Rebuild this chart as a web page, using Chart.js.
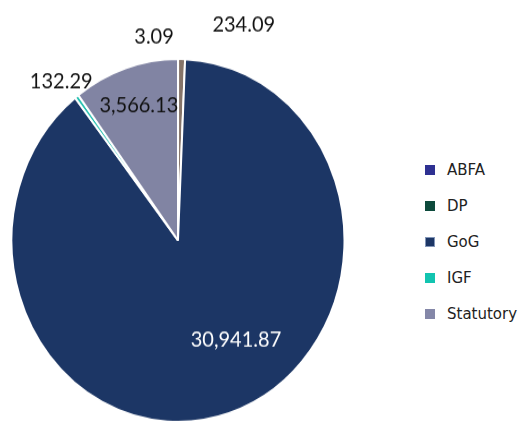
<!DOCTYPE html>
<html>
<head>
<meta charset="utf-8">
<script src="https://cdn.jsdelivr.net/npm/chart.js@4/dist/chart.umd.min.js"></script>
<style>
  body { margin: 0; background: #fff; }
  #wrap { position: relative; width: 522px; height: 423px; overflow: hidden; }
  /* pie is drawn slightly taller than wide */
  #pie-box { position: absolute; left: 0; top: 0; width: 356px; height: 388px; transform: scaleY(1.0902); transform-origin: 0 0; }
  #legend { position: absolute; left: 425px; top: 160px; margin: 0; padding: 0; list-style: none; font-family: 'DejaVu Sans', sans-serif; font-size: 15px; color: #222; }
  #legend li { display: flex; align-items: center; height: 20px; margin-bottom: 16px; }
  #legend .box { width: 10px; height: 10px; margin-right: 12px; box-sizing: border-box; }
</style>
</head>
<body>
<div id="wrap">
  <div id="pie-box"><canvas id="pie-chart"></canvas></div>
  <ul id="legend"></ul>
</div>
<script>
const sources = ['ABFA', 'DP', 'GoG', 'IGF', 'Statutory'];
const amounts = [3.09, 234.09, 30941.87, 132.29, 3566.13];

const sliceColors = ['#2e3192', '#857469', '#1c3665', '#1dbfae', '#8184a3'];
const legendColors = ['#2e3192', '#0d4a3c', '#1c3665', '#12c4b0', '#8487a8'];
const legendBorders = ['#2e3192', '#0d4a3c', '#8396b8', '#12c4b0', '#8487a8'];

// value labels: angle shift from the slice middle (deg), distance as share of radius
const labelShift = [-7.3, 17.1, -14.6, -1.2, 0.9];
const labelDistance = [1.134, 1.255, 0.649, 1.122, 0.782];
const labelColors = ['#111111', '#111111', '#ffffff', '#111111', '#111111'];

const fmt = v => v.toLocaleString('en-US', { minimumFractionDigits: 2, maximumFractionDigits: 2 });

const sliceLabels = {
  id: 'sliceLabels',
  afterDatasetsDraw(chart) {
    const ctx = chart.ctx;
    const meta = chart.getDatasetMeta(0);
    ctx.save();
    ctx.font = '20px Lato';
    ctx.textAlign = 'center';
    ctx.textBaseline = 'middle';
    meta.data.forEach((arc, i) => {
      const { x, y, startAngle, endAngle, outerRadius } =
        arc.getProps(['x', 'y', 'startAngle', 'endAngle', 'outerRadius'], true);
      const a = (startAngle + endAngle) / 2 + labelShift[i] * Math.PI / 180;
      const r = outerRadius * labelDistance[i];
      ctx.fillStyle = labelColors[i];
      ctx.fillText(fmt(amounts[i]), x + Math.cos(a) * r, y + Math.sin(a) * r);
    });
    ctx.restore();
  }
};

const chart = new Chart(document.querySelector('#pie-chart'), {
  type: 'pie',
  data: {
    labels: sources,
    datasets: [{
      data: amounts,
      backgroundColor: sliceColors,
      borderColor: '#ffffff',
      borderWidth: 2
    }]
  },
  options: {
    responsive: true,
    maintainAspectRatio: false,
    animation: false,
    layout: { padding: { left: 10, right: 10, top: 53, bottom: 0 } },
    plugins: {
      legend: { display: false },
      tooltip: { enabled: false }
    }
  },
  plugins: [sliceLabels]
});

const legend = document.querySelector('#legend');
chart.data.labels.forEach((name, i) => {
  const li = document.createElement('li');
  const box = document.createElement('span');
  box.className = 'box';
  box.style.background = legendColors[i];
  box.style.border = '1px solid ' + legendBorders[i];
  li.appendChild(box);
  li.appendChild(document.createTextNode(name));
  legend.appendChild(li);
});
</script>
</body>
</html>
